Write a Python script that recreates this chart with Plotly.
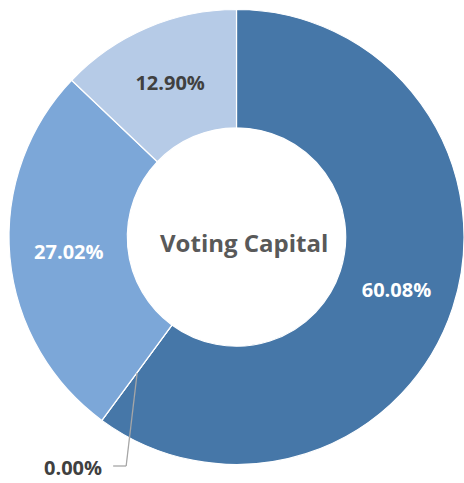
import math
import plotly.graph_objects as go

# Voting capital split (percent), clockwise from 12 o'clock
categories = ["Group A", "Group B", "Group C", "Group D"]
values = [60.08, 0.00, 27.02, 12.90]
colors = ["#4677A8", "#4677A8", "#7CA7D8", "#B6CBE7"]
text_colors = ["#FFFFFF", "#FFFFFF", "#FFFFFF", "#404040"]

W, H = 464, 483
CX, CY, R = 237, 237, 228  # pie centre and outer radius in pixels (from top-left)
HOLE = 0.48
FONT = "Open Sans"

def px(x):
    return x / W

def py(y):
    return (H - y) / H

labels = [f"{v:.2f}%" if v > 0 else "" for v in values]

fig = go.Figure(go.Pie(
    labels=categories,
    values=values,
    text=labels,
    textinfo="text",
    textposition="inside",
    insidetextorientation="horizontal",
    textfont=dict(family=FONT, size=20, color=text_colors, weight="bold"),
    marker=dict(colors=colors, line=dict(color="#FFFFFF", width=1.2)),
    hole=HOLE,
    sort=False,
    direction="clockwise",
    rotation=0,
    showlegend=False,
    domain=dict(x=[px(CX - R), min(1, px(CX + R))], y=[py(CY + R), py(CY - R)]),
))

# Leader line for the zero-valued slice, anchored on its boundary angle
total = sum(values)
theta = 2 * math.pi * sum(values[:2]) / total
r_mid = R * (1 + HOLE) / 2
sx = CX + r_mid * math.sin(theta)
sy = CY - r_mid * math.cos(theta)
ex, ey = sx - 11, 466
hx = ex - 13

fig.add_shape(type="line", xref="paper", yref="paper",
              x0=px(sx), y0=py(sy), x1=px(ex), y1=py(ey),
              line=dict(color="#A6A6A6", width=1.3))
fig.add_shape(type="line", xref="paper", yref="paper",
              x0=px(ex), y0=py(ey), x1=px(hx), y1=py(ey),
              line=dict(color="#A6A6A6", width=1.3))
fig.add_annotation(x=px(hx - 9), y=py(ey + 1), xref="paper", yref="paper",
                   text=f"{values[1]:.2f}%", showarrow=False,
                   xanchor="right", yanchor="middle",
                   font=dict(family=FONT, size=20, color="#404040", weight="bold"))

# Centre title
fig.add_annotation(x=px(CX + 7), y=py(CY + 5), xref="paper", yref="paper",
                   text="<b>Voting Capital</b>", showarrow=False,
                   font=dict(family=FONT, size=24, color="#595959"))

fig.update_layout(
    width=W, height=H,
    margin=dict(l=0, r=0, t=0, b=0),
    paper_bgcolor="#FFFFFF",
    plot_bgcolor="#FFFFFF",
)

fig.write_html("out.html")
